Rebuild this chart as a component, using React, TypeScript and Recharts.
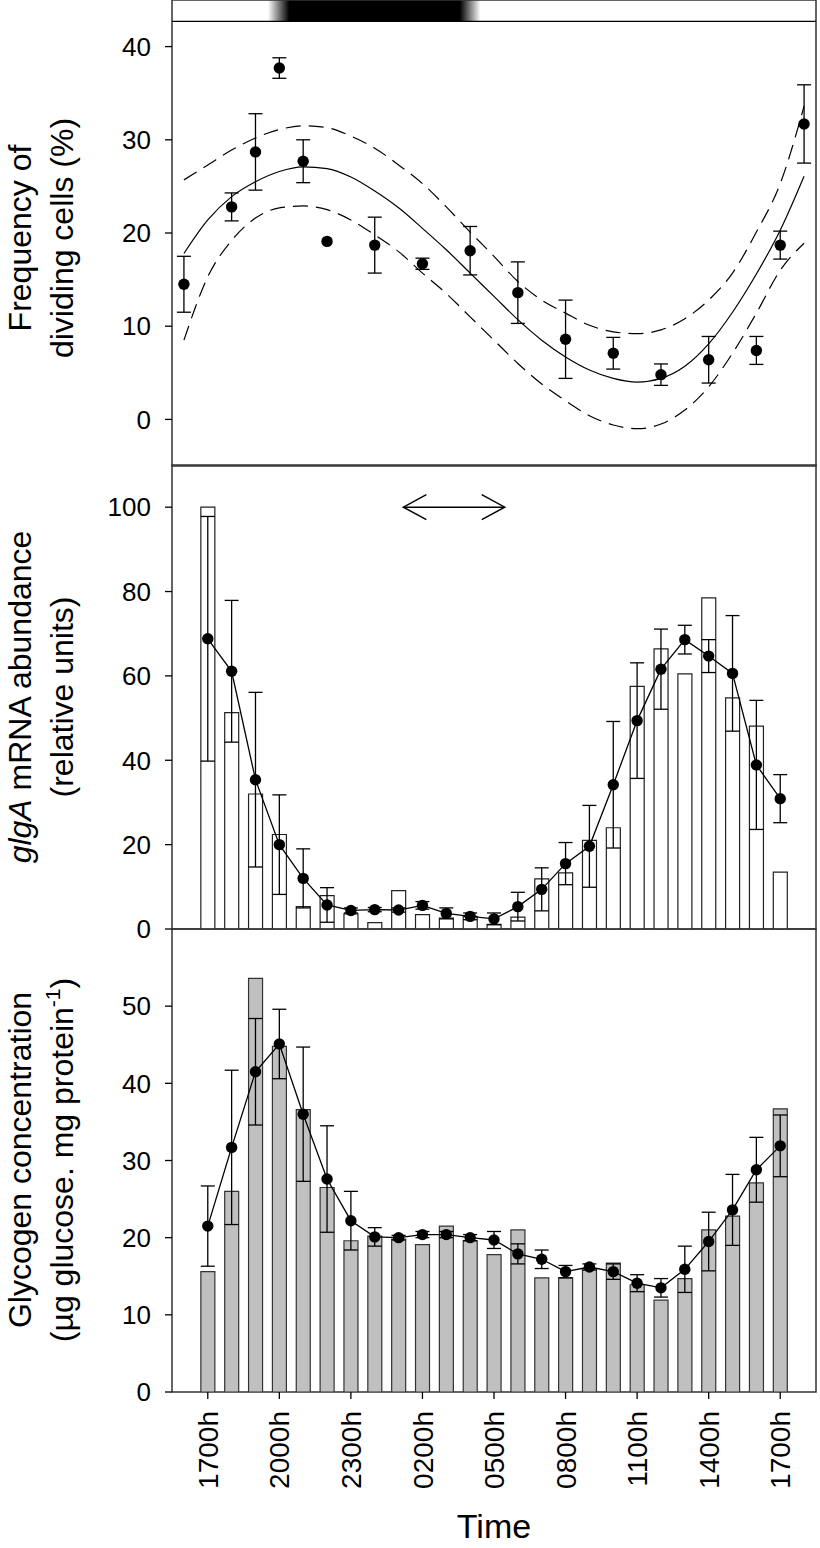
import React from "react";
import {
  ComposedChart,
  Bar,
  Line,
  Scatter,
  XAxis,
  YAxis,
  ErrorBar,
  ReferenceArea,
  ReferenceLine,
} from "recharts";

const FONT = "'Liberation Sans', Arial, Helvetica, sans-serif";

// x axis: hours after the 1700h start
const xTickHours = [0, 3, 6, 9, 12, 15, 18, 21, 24];
const xTickLabels = ["1700h", "2000h", "2300h", "0200h", "0500h", "0800h", "1100h", "1400h", "1700h"];
const X_DOMAIN: [number, number] = [-1.5, 25.5];

// panel 1: frequency of dividing cells (%)
const freqHours = [-1, 1, 2, 3, 4, 5, 7, 9, 11, 13, 15, 17, 19, 21, 23, 24, 25];
const freqValues = [14.5, 22.8, 28.7, 37.7, 27.7, 19.1, 18.7, 16.7, 18.1, 13.6, 8.6, 7.1, 4.8, 6.4, 7.4, 18.7, 31.7];
const freqErrors = [3.0, 1.5, 4.1, 1.1, 2.3, 0, 3.0, 0.6, 2.6, 3.3, 4.2, 1.7, 1.15, 2.5, 1.5, 1.5, 4.2];

// fitted curve and its confidence band
const fitHours = [-1, 0, 1, 2, 3, 4, 5, 6, 7, 8, 9, 10, 11, 12, 13, 14, 15, 16, 17, 18, 19, 20, 21, 22, 23, 24, 25];
const fitMid = [17.8, 21.4, 23.9, 25.5, 26.6, 27.1, 26.9, 26.0, 24.5, 22.7, 20.5, 18.2, 15.7, 13.2, 10.7, 8.5, 6.7, 5.3, 4.4, 4.0, 4.4, 5.7, 8.1, 11.5, 15.6, 20.3, 26.1];
const fitUpper = [25.7, 27.3, 28.9, 30.2, 31.1, 31.5, 31.3, 30.4, 29.1, 27.3, 25.3, 22.8, 20.1, 17.5, 14.8, 12.8, 11.4, 10.1, 9.4, 9.2, 9.6, 10.8, 12.8, 15.7, 20.1, 25.3, 33.6];
const fitLower = [8.5, 15.3, 19.2, 21.6, 22.7, 22.9, 22.5, 21.4, 19.8, 18.0, 15.7, 13.5, 11.0, 8.5, 6.0, 3.8, 2.0, 0.4, -0.6, -1.0, -0.5, 1.0, 3.5, 7.1, 11.4, 16.0, 18.9];

// panels 2 and 3: hourly samples
const sampleHours = [0, 1, 2, 3, 4, 5, 6, 7, 8, 9, 10, 11, 12, 13, 14, 15, 16, 17, 18, 19, 20, 21, 22, 23, 24];

const mrnaBars = [100, 51.3, 32.0, 22.4, 5.3, 7.9, 3.6, 1.5, 9.1, 3.4, 2.6, 3.0, 1.1, 2.8, 11.9, 13.3, 21.0, 24.0, 57.5, 66.4, 60.5, 78.5, 54.8, 48.1, 13.5];
const mrnaMean = [68.8, 61.1, 35.4, 20.0, 12.0, 5.7, 4.4, 4.6, 4.5, 5.6, 3.7, 3.0, 2.4, 5.3, 9.4, 15.5, 19.6, 34.2, 49.4, 61.6, 68.6, 64.7, 60.6, 38.9, 30.9];
const mrnaErr = [29.0, 16.8, 20.7, 11.8, 7.0, 4.1, 0.6, 0.5, 0.5, 0.9, 1.3, 0.8, 1.4, 3.4, 5.1, 5.0, 9.7, 15.0, 13.7, 9.5, 3.4, 3.9, 13.7, 15.3, 5.7];

const glyBars = [15.6, 26.0, 53.6, 44.8, 36.6, 26.5, 19.6, 20.2, 19.8, 19.1, 21.5, 19.6, 17.8, 21.0, 14.8, 14.8, 16.0, 16.7, 13.9, 11.9, 14.7, 21.0, 22.8, 27.1, 36.7];
const glyMean = [21.5, 31.7, 41.5, 45.1, 36.0, 27.6, 22.2, 20.1, 20.0, 20.4, 20.4, 20.0, 19.7, 17.9, 17.2, 15.6, 16.2, 15.6, 14.1, 13.5, 15.9, 19.5, 23.6, 28.8, 31.9];
const glyErr = [5.2, 10.0, 6.9, 4.5, 8.7, 6.9, 3.8, 1.2, 0.3, 0.4, 0.4, 0.4, 1.1, 1.3, 1.2, 0.8, 0.4, 1.0, 1.1, 1.2, 3.0, 3.8, 4.6, 4.2, 4.0];

const freqData = freqHours.map((h, i) => ({ h, v: freqValues[i], err: freqErrors[i] }));
const fitData = fitHours.map((h, i) => ({ h, mid: fitMid[i], up: fitUpper[i], lo: fitLower[i] }));
const mrnaData = sampleHours.map((h, i) => ({ h, bar: mrnaBars[i], mean: mrnaMean[i], err: mrnaErr[i] }));
const glyData = sampleHours.map((h, i) => ({ h, bar: glyBars[i], mean: glyMean[i], err: glyErr[i] }));

const MARGIN = { top: 0, right: 4, bottom: 0, left: 0 };
const yTick = { fontSize: 26, fill: "#000", fontFamily: FONT };
const DASH = "15 8";

const dotShape = (p: any) => <circle cx={p.cx} cy={p.cy} r={5.7} fill="#000" />;
const lineDot = { r: 5.7, fill: "#000", stroke: "#000", strokeWidth: 0 };

const XTick = (props: any) => {
  const { x, y, payload } = props;
  const label = xTickLabels[xTickHours.indexOf(payload.value)];
  return (
    <text
      transform={`translate(${x},${y + 10}) rotate(-90)`}
      textAnchor="end"
      dy="0.36em"
      fontSize={28}
      fontFamily={FONT}
      fill="#000"
    >
      {label}
    </text>
  );
};

const arrowShape = (p: any) => {
  const { x1, y1, x2, y2 } = p;
  return (
    <g stroke="#000" strokeWidth={1.5} fill="none">
      <line x1={x1} y1={y1} x2={x2} y2={y2} />
      <polyline points={`${x1 + 23},${y1 - 12.5} ${x1},${y1} ${x1 + 23},${y1 + 12.5}`} />
      <polyline points={`${x2 - 23},${y2 - 12.5} ${x2},${y2} ${x2 - 23},${y2 + 12.5}`} />
    </g>
  );
};

function frame(y1: number, y2: number) {
  return (
    <ReferenceArea
      x1={X_DOMAIN[0]}
      x2={X_DOMAIN[1]}
      y1={y1}
      y2={y2}
      fill="none"
      stroke="#333"
      strokeWidth={1.5}
    />
  );
}

function topTicks() {
  return (
    <XAxis
      xAxisId="top"
      type="number"
      dataKey="h"
      domain={X_DOMAIN}
      allowDataOverflow
      orientation="top"
      mirror
      height={6}
      ticks={xTickHours}
      tick={false}
      axisLine={false}
      tickSize={5}
      tickLine={{ stroke: "#000", strokeWidth: 1.3 }}
    />
  );
}

function FrequencyPanel() {
  return (
    <ComposedChart width={820} height={466} data={fitData} margin={MARGIN}>
      <defs>
        <linearGradient id="nightGrad" x1="0" y1="0" x2="1" y2="0">
          <stop offset="0.149" stopColor="#fff" />
          <stop offset="0.182" stopColor="#000" />
          <stop offset="0.447" stopColor="#000" />
          <stop offset="0.479" stopColor="#fff" />
        </linearGradient>
      </defs>
      <XAxis type="number" dataKey="h" domain={X_DOMAIN} allowDataOverflow hide />
      <YAxis
        type="number"
        domain={[-5, 45]}
        allowDataOverflow
        ticks={[0, 10, 20, 30, 40]}
        interval={0}
        width={172}
        axisLine={false}
        tickSize={7}
        tickMargin={14}
        tickLine={{ stroke: "#000", strokeWidth: 1.3 }}
        tick={yTick}
      />
      <ReferenceArea x1={-1.5} x2={25.5} y1={42.7} y2={45} fill="url(#nightGrad)" fillOpacity={1} stroke="none" />
      <ReferenceLine y={42.7} stroke="#000" strokeWidth={1.3} />
      <Line dataKey="up" type="monotone" stroke="#000" strokeWidth={1.2} strokeDasharray={DASH} dot={false} isAnimationActive={false} />
      <Line dataKey="mid" type="monotone" stroke="#000" strokeWidth={1.2} dot={false} isAnimationActive={false} />
      <Line dataKey="lo" type="monotone" stroke="#000" strokeWidth={1.2} strokeDasharray={DASH} dot={false} isAnimationActive={false} />
      <Scatter data={freqData} dataKey="v" shape={dotShape} isAnimationActive={false}>
        <ErrorBar dataKey="err" direction="y" width={7} stroke="#000" strokeWidth={1.3} />
      </Scatter>
      {frame(-5, 45)}
    </ComposedChart>
  );
}

function MrnaPanel() {
  return (
    <ComposedChart width={820} height={464} data={mrnaData} margin={MARGIN}>
      <XAxis type="number" dataKey="h" domain={X_DOMAIN} allowDataOverflow hide />
      {topTicks()}
      <YAxis
        type="number"
        domain={[0, 110]}
        allowDataOverflow
        ticks={[0, 20, 40, 60, 80, 100]}
        interval={0}
        width={172}
        axisLine={false}
        tickSize={7}
        tickMargin={14}
        tickLine={{ stroke: "#000", strokeWidth: 1.3 }}
        tick={yTick}
      />
      <Bar dataKey="bar" barSize={14} fill="#fff" stroke="#222" strokeWidth={1.2} isAnimationActive={false} />
      <Line dataKey="mean" type="linear" stroke="#000" strokeWidth={1.3} dot={lineDot} activeDot={false} isAnimationActive={false}>
        <ErrorBar dataKey="err" width={7} stroke="#000" strokeWidth={1.3} />
      </Line>
      <ReferenceLine segment={[{ x: 8.2, y: 100 }, { x: 12.45, y: 100 }]} shape={arrowShape} />
      {frame(0, 110)}
    </ComposedChart>
  );
}

function GlycogenPanel() {
  return (
    <ComposedChart width={820} height={619} data={glyData} margin={MARGIN}>
      <XAxis
        type="number"
        dataKey="h"
        domain={X_DOMAIN}
        allowDataOverflow
        ticks={xTickHours}
        height={156}
        axisLine={false}
        tickSize={7}
        tickLine={{ stroke: "#000", strokeWidth: 1.3 }}
        tick={<XTick />}
        interval={0}
      />
      {topTicks()}
      <YAxis
        type="number"
        domain={[0, 60]}
        allowDataOverflow
        ticks={[0, 10, 20, 30, 40, 50]}
        interval={0}
        width={172}
        axisLine={false}
        tickSize={7}
        tickMargin={14}
        tickLine={{ stroke: "#000", strokeWidth: 1.3 }}
        tick={yTick}
      />
      <Bar dataKey="bar" barSize={14} fill="#c0c0c0" stroke="#333" strokeWidth={1.2} isAnimationActive={false} />
      <Line dataKey="mean" type="linear" stroke="#000" strokeWidth={1.3} dot={lineDot} activeDot={false} isAnimationActive={false}>
        <ErrorBar dataKey="err" width={7} stroke="#000" strokeWidth={1.3} />
      </Line>
      {frame(0, 60)}
    </ComposedChart>
  );
}

function Titles() {
  const fs = 32;
  return (
    <svg width={820} height={1548} style={{ position: "absolute", left: 0, top: 0, pointerEvents: "none" }}>
      <g fontFamily={FONT} fontSize={fs} fill="#000">
        <text transform="translate(31,238) rotate(-90)" textAnchor="middle">Frequency of</text>
        <text transform="translate(73,238) rotate(-90)" textAnchor="middle">dividing cells (%)</text>

        <text transform="translate(31,697) rotate(-90)" textAnchor="middle">
          <tspan fontStyle="italic">glgA</tspan> mRNA abundance
        </text>
        <text transform="translate(73,697) rotate(-90)" textAnchor="middle">(relative units)</text>

        <text transform="translate(31,1160) rotate(-90)" textAnchor="middle">Glycogen concentration</text>
        <text transform="translate(73,1160) rotate(-90)" textAnchor="middle">
          (µg glucose. mg protein
          <tspan dy={-13} fontSize={21}>-1</tspan>
          <tspan dy={13}>)</tspan>
        </text>

        <text x={494} y={1538} textAnchor="middle" fontSize={34}>Time</text>
      </g>
    </svg>
  );
}

export default function App() {
  return (
    <div style={{ position: "absolute", left: 0, top: 0, width: 820, height: 1548, background: "#fff", overflow: "hidden" }}>
      <style>{".recharts-surface { overflow: visible; } .recharts-wrapper { overflow: visible; }"}</style>
      <div style={{ position: "absolute", left: 0, top: 0 }}>
        <FrequencyPanel />
      </div>
      <div style={{ position: "absolute", left: 0, top: 465 }}>
        <MrnaPanel />
      </div>
      <div style={{ position: "absolute", left: 0, top: 929 }}>
        <GlycogenPanel />
      </div>
      <Titles />
    </div>
  );
}
